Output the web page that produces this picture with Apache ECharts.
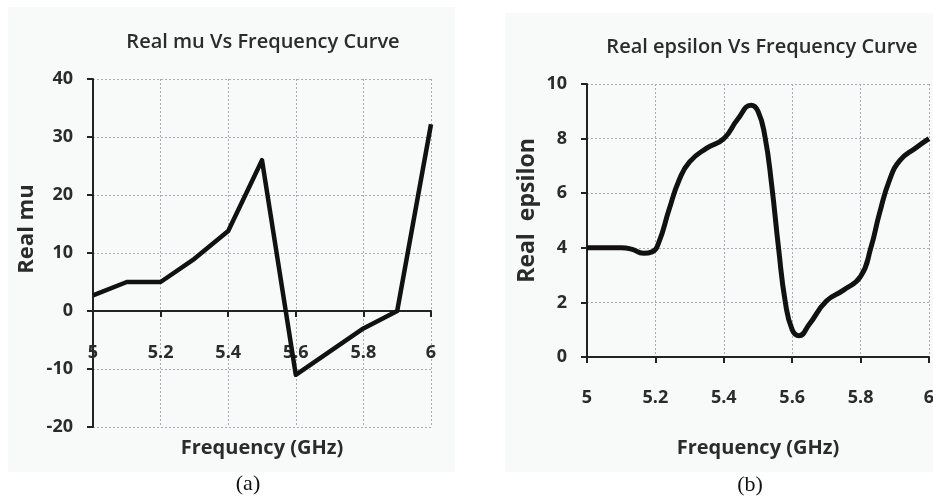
<!DOCTYPE html>
<html>
<head>
<meta charset="utf-8">
<script src="https://cdn.jsdelivr.net/npm/echarts@6/dist/echarts.min.js"></script>
<style>
  html, body { margin: 0; padding: 0; background: #ffffff; }
  #chart { width: 933px; height: 499px; }
</style>
</head>
<body>
<div id="chart"></div>
<script>
// Panel (a): real part of permeability
const freqMu = [5.0, 5.1, 5.2, 5.3, 5.4, 5.5, 5.6, 5.7, 5.8, 5.9, 6.0];
const realMu = [2.7, 5.0, 5.0, 9.0, 13.8, 26.0, -11.0, -7.0, -3.0, 0.0, 32.2];

// Panel (b): real part of permittivity
const freqEps = [5.0, 5.05, 5.1, 5.13, 5.165, 5.19, 5.21, 5.24, 5.27, 5.3, 5.35, 5.4, 5.44, 5.48, 5.5,
                 5.52, 5.54, 5.56, 5.58, 5.6, 5.62, 5.65, 5.7, 5.75, 5.8, 5.83, 5.855, 5.885, 5.915, 5.96, 6.0];
const realEps = [4.0, 4.0, 4.0, 3.95, 3.8, 3.85, 4.2, 5.4, 6.5, 7.15, 7.65, 8.0, 8.7, 9.22, 9.0,
                 8.1, 6.3, 4.0, 2.0, 1.0, 0.78, 1.2, 2.05, 2.45, 2.95, 4.0, 5.25, 6.5, 7.2, 7.65, 8.0];

const freqTicks = { min: 5, max: 6, interval: 0.2 };
const muTicks = { min: -20, max: 40, interval: 10 };
const epsTicks = { min: 0, max: 10, interval: 2 };

const FONT = '"Open Sans", sans-serif';
const INK = '#2b2b2b';

function pairs(xs, ys) { return xs.map((x, i) => [x, ys[i]]); }

// Labels and name are laid out from the bottom edge of the grid;
// the axis line itself sits on y = 0.
function xAxisCfg(gridIndex, margin, nameGap) {
  return {
    type: 'value', gridIndex,
    min: freqTicks.min, max: freqTicks.max, interval: freqTicks.interval,
    name: 'Frequency (GHz)', nameLocation: 'middle', nameGap,
    nameTextStyle: { fontFamily: FONT, fontWeight: 'bold', fontSize: 20, color: INK },
    axisLine: { onZero: true, lineStyle: { color: '#222', width: 2 } },
    axisTick: { show: true, length: 6, lineStyle: { color: '#222', width: 2 } },
    axisLabel: { margin, fontFamily: FONT, fontWeight: 'bold', fontSize: 18, color: INK },
    splitLine: { show: true, lineStyle: { color: '#a9adb3', type: [2, 2], width: 1 } }
  };
}

function yAxisCfg(gridIndex, ticks, name, nameGap, fontSize, pad) {
  return {
    type: 'value', gridIndex,
    min: ticks.min, max: ticks.max, interval: ticks.interval,
    name, nameLocation: 'middle', nameGap,
    nameTextStyle: { fontFamily: FONT, fontWeight: 'bold', fontSize, color: INK, padding: pad },
    axisLine: { show: true, lineStyle: { color: '#222', width: 2 } },
    axisTick: { show: true, length: 6, lineStyle: { color: '#222', width: 2 } },
    axisLabel: { margin: 20, fontFamily: FONT, fontWeight: 'bold', fontSize: 18, color: INK },
    splitLine: { show: true, lineStyle: { color: '#a9adb3', type: [2, 2], width: 1 } }
  };
}

const chart = echarts.init(document.getElementById('chart'), null, { renderer: 'canvas' });

chart.setOption({
  backgroundColor: '#ffffff',
  animation: false,
  graphic: [
    { type: 'rect', z: -10, shape: { x: 8, y: 7, width: 447, height: 465 }, style: { fill: '#f8f9f9' } },
    { type: 'rect', z: -10, shape: { x: 505, y: 13, width: 428, height: 459 }, style: { fill: '#f8f9f9' } },
    { type: 'text', x: 248, y: 484, style: { text: '(a)', font: '22px "Liberation Serif", serif', fill: '#111', align: 'center', verticalAlign: 'middle' } },
    { type: 'text', x: 750, y: 485, style: { text: '(b)', font: '22px "Liberation Serif", serif', fill: '#111', align: 'center', verticalAlign: 'middle' } }
  ],
  title: [
    { text: 'Real mu Vs Frequency Curve', left: 258, top: 27, textAlign: 'center',
      textStyle: { fontFamily: FONT, fontWeight: 600, fontSize: 20, color: INK } },
    { text: 'Real epsilon Vs Frequency Curve', left: 757, top: 32, textAlign: 'center',
      textStyle: { fontFamily: FONT, fontWeight: 600, fontSize: 20, color: INK } }
  ],
  grid: [
    { left: 93, right: 502, top: 79, bottom: 72, containLabel: false, outerBoundsMode: 'none' },
    { left: 587, right: 4, top: 84, bottom: 142, containLabel: false, outerBoundsMode: 'none' }
  ],
  xAxis: [
    xAxisCfg(0, -83, 11),
    xAxisCfg(1, 32, 81)
  ],
  yAxis: [
    yAxisCfg(0, muTicks, 'Real mu', 55, 22, [0, 0, 0, 48]),
    yAxisCfg(1, epsTicks, 'Real  epsilon', 48, 23, [0, 0, 0, 20])
  ],
  series: [
    {
      type: 'line', xAxisIndex: 0, yAxisIndex: 0,
      data: pairs(freqMu, realMu),
      showSymbol: false, symbol: 'none',
      lineStyle: { color: '#111', width: 4.5, join: 'round' }
    },
    {
      type: 'line', xAxisIndex: 1, yAxisIndex: 1,
      data: pairs(freqEps, realEps),
      showSymbol: false, symbol: 'none',
      smooth: 0.5,
      lineStyle: { color: '#111', width: 5 }
    }
  ]
});
</script>
</body>
</html>
